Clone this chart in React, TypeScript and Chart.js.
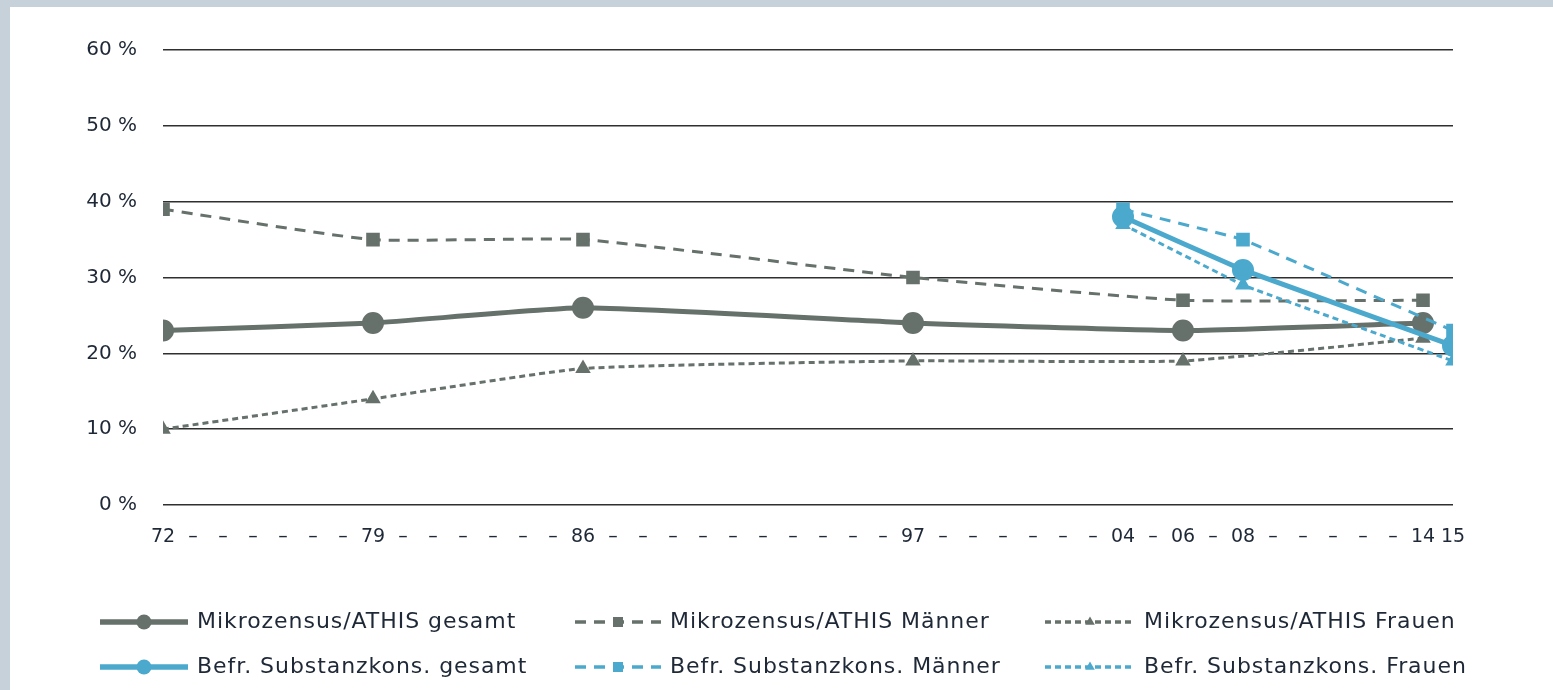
import React, { useEffect, useRef } from "react";
import { Chart, registerables } from "chart.js";

Chart.register(...registerables);

const mzYears = [1972, 1979, 1986, 1997, 2006, 2014];
const mzGesamt = [23, 24, 26, 24, 23, 24];
const mzMaenner = [39, 35, 35, 30, 27, 27];
const mzFrauen = [10, 14, 18, 19, 19, 22];

const befrYears = [2004, 2008, 2015];
const befrGesamt = [38, 31, 21];
const befrMaenner = [39, 35, 23];
const befrFrauen = [37, 29, 19];

const yearLabels: Record<number, string> = {
  1972: "72",
  1979: "79",
  1986: "86",
  1997: "97",
  2004: "04",
  2006: "06",
  2008: "08",
  2014: "14",
  2015: "15",
};

const seriesNames = [
  "Mikrozensus/ATHIS gesamt",
  "Mikrozensus/ATHIS Männer",
  "Mikrozensus/ATHIS Frauen",
  "Befr. Substanzkons. gesamt",
  "Befr. Substanzkons. Männer",
  "Befr. Substanzkons. Frauen",
];

const GREY = "#66716b";
const BLUE = "#4ba9cd";
const TEXT = "#1e2836";
const FONT = "'DejaVu Sans', sans-serif";

const pts = (xs: number[], ys: number[]) => xs.map((x, i) => ({ x, y: ys[i] }));

const legendPlugin = {
  id: "customLegend",
  afterDraw(chart: any) {
    const ctx = chart.ctx as CanvasRenderingContext2D;
    const colX = [100, 575, 1045];
    const lineLen = [88, 86, 90];
    const rowY = [622, 667];
    chart.data.datasets.forEach((ds: any, i: number) => {
      const col = i % 3;
      const row = Math.floor(i / 3);
      const x0 = colX[col];
      const x1 = x0 + lineLen[col];
      const y = rowY[row];
      ctx.save();
      ctx.strokeStyle = ds.borderColor;
      ctx.lineWidth = ds.borderWidth + 0.5;
      ctx.setLineDash(ds.borderDash || []);
      ctx.beginPath();
      ctx.moveTo(x0, y);
      ctx.lineTo(x1, y);
      ctx.stroke();
      ctx.setLineDash([]);
      ctx.fillStyle = ds.pointBackgroundColor;
      const cx = (x0 + x1) / 2;
      ctx.beginPath();
      if (ds.pointStyle === "circle") {
        ctx.arc(cx, y, 7.5, 0, Math.PI * 2);
      } else if (ds.pointStyle === "rect") {
        const s = 5;
        ctx.rect(cx - s, y - s, 2 * s, 2 * s);
      } else {
        const r = 5.5;
        ctx.moveTo(cx, y - r);
        ctx.lineTo(cx + r * 0.87, y + r * 0.5);
        ctx.lineTo(cx - r * 0.87, y + r * 0.5);
        ctx.closePath();
      }
      ctx.fill();
      ctx.fillStyle = TEXT;
      ctx.font = `22px ${FONT}`;
      (ctx as any).letterSpacing = "0.95px";
      ctx.textBaseline = "middle";
      ctx.textAlign = "left";
      ctx.fillText(ds.label, x1 + 9, y);
      ctx.restore();
    });
  },
};

export default function App() {
  const ref = useRef<HTMLCanvasElement | null>(null);

  useEffect(() => {
    if (!ref.current) return;
    const common = { fill: false, showLine: true, pointHoverRadius: 0 };
    const chart = new Chart(ref.current, {
      type: "line",
      data: {
        datasets: [
          {
            ...common,
            label: seriesNames[0],
            data: pts(mzYears, mzGesamt),
            borderColor: GREY,
            backgroundColor: GREY,
            pointBackgroundColor: GREY,
            pointBorderColor: GREY,
            borderWidth: 5,
            pointStyle: "circle",
            pointRadius: 8.5,
            tension: 0.15,
            order: 4,
          },
          {
            ...common,
            label: seriesNames[1],
            data: pts(mzYears, mzMaenner),
            borderColor: GREY,
            backgroundColor: GREY,
            pointBackgroundColor: GREY,
            pointBorderColor: GREY,
            borderWidth: 3,
            borderDash: [11, 8],
            pointStyle: "rect",
            pointRadius: 7.5,
            tension: 0.15,
            order: 5,
          },
          {
            ...common,
            label: seriesNames[2],
            data: pts(mzYears, mzFrauen),
            borderColor: GREY,
            backgroundColor: GREY,
            pointBackgroundColor: GREY,
            pointBorderColor: GREY,
            borderWidth: 3,
            borderDash: [6, 4],
            pointStyle: "triangle",
            pointRadius: 6,
            tension: 0.15,
            order: 6,
          },
          {
            ...common,
            label: seriesNames[3],
            data: pts(befrYears, befrGesamt),
            borderColor: BLUE,
            backgroundColor: BLUE,
            pointBackgroundColor: BLUE,
            pointBorderColor: BLUE,
            borderWidth: 5,
            pointStyle: "circle",
            pointRadius: 8.5,
            tension: 0.05,
            order: 1,
          },
          {
            ...common,
            label: seriesNames[4],
            data: pts(befrYears, befrMaenner),
            borderColor: BLUE,
            backgroundColor: BLUE,
            pointBackgroundColor: BLUE,
            pointBorderColor: BLUE,
            borderWidth: 3,
            borderDash: [11, 8],
            pointStyle: "rect",
            pointRadius: 7.5,
            tension: 0.05,
            order: 2,
          },
          {
            ...common,
            label: seriesNames[5],
            data: pts(befrYears, befrFrauen),
            borderColor: BLUE,
            backgroundColor: BLUE,
            pointBackgroundColor: BLUE,
            pointBorderColor: BLUE,
            borderWidth: 3,
            borderDash: [6, 4],
            pointStyle: "triangle",
            pointRadius: 6,
            tension: 0.05,
            order: 3,
          },
        ],
      },
      options: {
        responsive: false,
        animation: false,
        events: [],
        layout: { padding: { left: 0, top: 50, right: 100, bottom: 125 } },
        plugins: {
          legend: { display: false },
          tooltip: { enabled: false },
        },
        scales: {
          x: {
            type: "linear",
            min: 1972,
            max: 2015,
            clip: false,
            grid: { display: false, drawTicks: false },
            border: { display: false },
            afterFit: (s: any) => {
              s.height = 60;
            },
            afterBuildTicks: (s: any) => {
              const t = [];
              for (let y = 1972; y <= 2015; y++) t.push({ value: y });
              s.ticks = t;
            },
            ticks: {
              autoSkip: false,
              maxRotation: 0,
              minRotation: 0,
              padding: 21,
              color: TEXT,
              font: { family: FONT, size: 19 },
              callback: (v: any) => yearLabels[Number(v)] ?? "–",
            },
          },
          y: {
            min: 0,
            max: 60,
            clip: false,
            grid: { color: "#2f2f2f", lineWidth: 1.5, drawTicks: false },
            border: { display: false },
            afterFit: (s: any) => {
              s.width = 163;
            },
            ticks: {
              stepSize: 10,
              padding: 26,
              color: TEXT,
              font: { family: FONT, size: 20 },
              callback: (v: any) => `${v} %`,
            },
          },
        },
      },
      plugins: [legendPlugin],
    } as any);
    return () => chart.destroy();
  }, []);

  return (
    <div
      style={{
        position: "fixed",
        left: 0,
        top: 0,
        width: 1553,
        height: 690,
        background: "#c6d1d9",
        overflow: "hidden",
      }}
    >
      <div
        style={{
          position: "absolute",
          left: 10,
          top: 7,
          right: 0,
          bottom: 0,
          background: "#ffffff",
        }}
      />
      <canvas
        ref={ref}
        width={1553}
        height={690}
        style={{ position: "absolute", left: 0, top: 0, width: 1553, height: 690 }}
      />
    </div>
  );
}
